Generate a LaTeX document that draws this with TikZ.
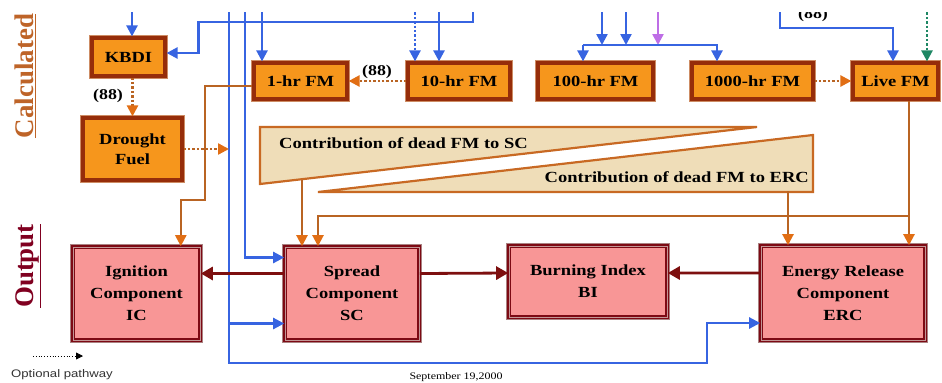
\documentclass[tikz,border=0pt]{standalone}
\usepackage{fontspec}
\usepackage{tikz}
\usetikzlibrary{arrows.meta,calc}

\newfontfamily\boxfont{Liberation Serif}[FakeStretch=1.2]
\newfontfamily\tagfont{Liberation Serif}
\newfontfamily\notefont{Liberation Sans}[FakeStretch=1.2]

\definecolor{calcfill}{RGB}{246,150,28}
\definecolor{calcedge}{RGB}{150,45,10}
\definecolor{calcrim}{RGB}{205,140,100}
\definecolor{outfill}{RGB}{248,150,150}
\definecolor{outedge}{RGB}{125,10,20}
\definecolor{outmid}{RGB}{195,150,150}
\definecolor{outrim}{RGB}{170,130,130}
\definecolor{wedgefill}{RGB}{239,221,184}
\definecolor{wedgeedge}{RGB}{200,105,35}
\definecolor{fuelline}{RGB}{185,100,35}
\definecolor{fueltip}{RGB}{225,110,20}
\definecolor{feedblue}{RGB}{55,100,225}
\definecolor{feedviolet}{RGB}{190,110,230}
\definecolor{feedgreen}{RGB}{30,135,100}
\definecolor{idxred}{RGB}{125,15,15}
\definecolor{calctag}{RGB}{190,100,40}
\definecolor{outtag}{RGB}{128,0,32}

\begin{document}
\begin{tikzpicture}[
  x=1bp, y=-1bp,
  boxtext/.style={font=\boxfont\bfseries\fontsize{15.5}{20}\selectfont, align=center, inner sep=2bp},
  calcbox/.style={boxtext, draw=calcedge, line width=3.2bp, fill=calcfill, preaction={draw=calcrim, line width=5.2bp}},
  outbox/.style={boxtext, font=\boxfont\bfseries\fontsize{15.5}{22}\selectfont, draw=outedge, line width=1.6bp, double=outmid, double distance=1bp, fill=outfill, preaction={draw=outrim, line width=6.6bp}},
  wedge/.style={fill=wedgefill, draw=wedgeedge, line width=2.2bp},
  wedgetext/.style={font=\boxfont\bfseries\fontsize{15.5}{18}\selectfont, inner sep=0pt},
  lagtag/.style={font=\boxfont\bfseries\fontsize{15}{15}\selectfont, inner sep=0pt},
  sidetag/.style={font=\tagfont\bfseries\fontsize{27}{27}\selectfont, inner sep=0pt, rotate=90},
  feed/.style={draw=feedblue, line width=2.4bp, -{Triangle[length=11bp,width=11bp]}},
  fuel/.style={draw=fuelline, line width=2.2bp, -{Triangle[length=11bp,width=11bp,color=fueltip]}},
  fueldot/.style={fuel, line width=2.4bp, dotted},
  index/.style={draw=idxred, line width=2.8bp, -{Triangle[length=12bp,width=13bp]}},
  optional/.style={draw=black, line width=0.8bp, dotted, -{Triangle[length=7bp,width=7bp]}}
]
  \useasboundingbox (0,0) rectangle (942,382);
  \begin{scope}
  \clip (0,12) rectangle (942,382);

  % Row labels
  \node[sidetag, text=calctag] (calc) at (25,76) {\underline{Calculated}};
  \node[sidetag, text=outtag] (outp) at (28,266) {\underline{Output}};

  % Calculated boxes
  \node[calcbox, minimum width=73bp, minimum height=38bp] (kbdi) at (128.5,57) {KBDI};
  \node[calcbox, minimum width=99bp, minimum height=62bp] (drought) at (132.5,149) {Drought\\Fuel};
  \node[calcbox, minimum width=93bp, minimum height=36bp] (hr1) at (300.5,81) {1-hr FM};
  \node[calcbox, minimum width=102bp, minimum height=36bp] (hr10) at (459,81) {10-hr FM};
  \node[calcbox, minimum width=115bp, minimum height=36bp] (hr100) at (595.5,81) {100-hr FM};
  \node[calcbox, minimum width=121bp, minimum height=36bp] (hr1000) at (752.5,81) {1000-hr FM};
  \node[calcbox, minimum width=85bp, minimum height=36bp] (live) at (895.5,81) {Live FM};

  % Contribution wedges
  \coordinate (scw1) at (260,127);
  \coordinate (scw2) at (757,127);
  \coordinate (scw3) at (260,184);
  \filldraw[wedge] (scw1) -- (scw2) -- (scw3) -- cycle;
  \node[wedgetext, anchor=west] (sclabel) at (279,143) {Contribution of dead FM to SC};
  \coordinate (ercw1) at (318,192);
  \coordinate (ercw2) at (813,135);
  \coordinate (ercw3) at (813,192);
  \filldraw[wedge] (ercw1) -- (ercw2) -- (ercw3) -- cycle;
  \node[wedgetext, anchor=east] (erclabel) at (809,177) {Contribution of dead FM to ERC};

  % Output boxes
  \node[outbox, minimum width=127bp, minimum height=93bp] (ic) at (136.5,293.5) {Ignition\\Component\\IC};
  \node[outbox, minimum width=134bp, minimum height=93bp] (sc) at (352,293.5) {Spread\\Component\\SC};
  \node[outbox, minimum width=158bp, minimum height=71bp] (bi) at (588,281.5) {Burning Index\\BI};
  \node[outbox, minimum width=164bp, minimum height=94bp] (erc) at (843,293) {Energy Release\\Component\\ERC};

  % Inputs from above
  \coordinate (kbdifeed) at (132,8);
  \coordinate (topfeed) at (473,8);
  \coordinate (longfeed) at (229,8);
  \coordinate (scfeed) at (245,8);
  \coordinate (hr1feed) at (262,8);
  \coordinate (hr10opt) at (415,8);
  \coordinate (hr10feed) at (439,8);
  \coordinate (deadA) at (602,8);
  \coordinate (deadB) at (626,8);
  \coordinate (deadC) at (658,8);
  \coordinate (deadsplit) at (583,45);
  \coordinate (deadjoin) at (717,45);
  \coordinate (livefeed) at (780,8);
  \coordinate (livebend) at (893,28);
  \coordinate (liveopt) at (927,8);
  \coordinate (bottombend) at (707,363);

  \draw[feed] (kbdifeed) -- (kbdifeed |- kbdi.north);
  \draw[feed] (topfeed) -- ++(0,14) -| ($(kbdi.east)+(32,-4)$) -- ($(kbdi.east)+(0,-4)$);
  \draw[feed] (hr1feed) -- (hr1feed |- hr1.north);
  \draw[feed, dotted] (hr10opt) -- (hr10opt |- hr10.north);
  \draw[feed] (hr10feed) -- (hr10feed |- hr10.north);
  \draw[feed] (deadA) -- (deadA |- deadsplit);
  \draw[feed] (deadB) -- (deadB |- deadsplit);
  \draw[feed, draw=feedviolet] (deadC) -- (deadC |- deadsplit);
  \draw[feed] (deadsplit) -- (deadsplit |- hr100.north);
  \draw[feed] (deadsplit) -- (deadjoin) -- (deadjoin |- hr1000.north);
  \draw[feed] (livefeed) |- (livebend) -- (livebend |- live.north);
  \draw[feed, dotted, draw=feedgreen] (liveopt) -- (liveopt |- live.north);
  \node[lagtag] (livelag) at (813,15) {(88)};

  % Long feeds to outputs
  \coordinate (scin1) at ($(sc.west)+(0,-36)$);
  \coordinate (scin2) at ($(sc.west)+(0,30)$);
  \coordinate (ercin) at ($(erc.west)+(0,30)$);
  \draw[feed] (scfeed) |- (scin1);
  \draw[feed] (longfeed |- scin2) -- (scin2);
  \draw[feed] (longfeed) |- (bottombend) |- (ercin);

  % Fuel moisture links
  \coordinate (icbend) at (205,200);
  \draw[fuel] ($(hr1.west)+(0,5)$) -| (icbend) -| ($(ic.north east)+(-20,0)$);
  \draw[fueldot] (kbdi.south -| drought.north) -- (drought.north);
  \node[lagtag] (kbdilag) at (108,96) {(88)};
  \draw[fueldot] (drought.east) -- (drought.east -| longfeed);
  \draw[fueldot] (hr10.west) -- (hr1.east);
  \node[lagtag] (hr10lag) at (377,72) {(88)};
  \draw[fueldot] (hr1000.east) -- (live.west);

  \coordinate (scshare) at (302,180);
  \coordinate (ercshare) at (788,191);
  \coordinate (liveout) at ($(live.south)+(13.5,0)$);
  \draw[fuel] (scshare) -- (scshare |- sc.north);
  \draw[fuel] (ercshare) -- (ercshare |- erc.north);
  \draw[fuel] (liveout) -- (liveout |- erc.north);
  \draw[fuel] (liveout |- 0,216) -| ($(sc.north)+(-34,0)$);

  % Output links
  \draw[index] ([yshift=20bp]sc.west) -- ([yshift=20bp]ic.east);
  \draw[index] ([yshift=20bp]sc.east) -- ([yshift=8.5bp]bi.west);
  \draw[index] ([yshift=20bp]erc.west) -- ([yshift=8.5bp]bi.east);

  % Legend and date
  \coordinate (optA) at (33,356);
  \coordinate (optB) at (83,356);
  \draw[optional] (optA) -- (optB);
  \node[font=\notefont\fontsize{11}{12}\selectfont, text=black!80, anchor=west, inner sep=0pt] (optlabel) at (11,375) {Optional pathway};
  \node[font=\boxfont\fontsize{10}{11}\selectfont, inner sep=0pt] (date) at (456,377) {September 19,2000};
  \end{scope}
\end{tikzpicture}
\end{document}
